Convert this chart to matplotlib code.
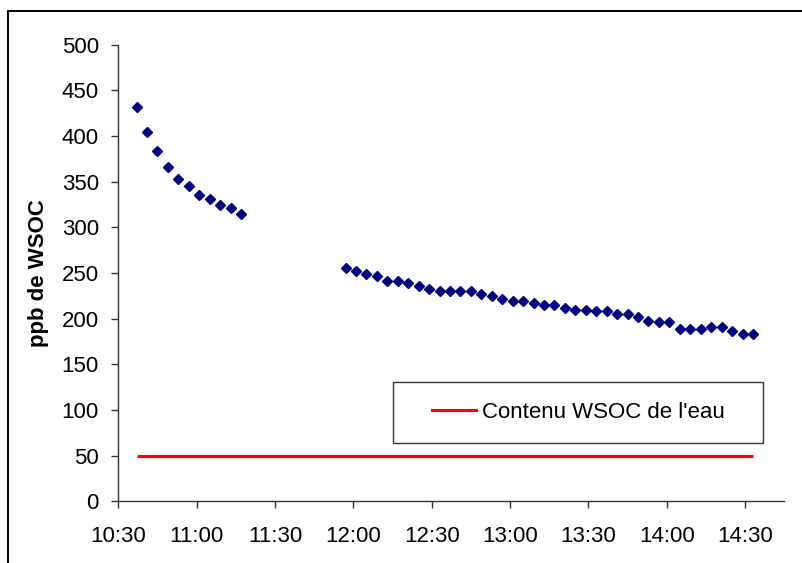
import matplotlib
matplotlib.use("Agg")
from datetime import datetime
import matplotlib.pyplot as plt
import matplotlib.dates as mdates
from matplotlib.patches import Rectangle
from matplotlib.lines import Line2D

plt.rcParams['font.family'] = ['Liberation Sans', 'DejaVu Sans']

# measured WSOC (ppb), first run
times1 = ["10:37", "10:41", "10:45", "10:49", "10:53", "10:57",
          "11:01", "11:05", "11:09", "11:13", "11:17"]
wsoc1 = [432, 405, 384, 366, 353, 345, 336, 331, 324, 321, 315]

# second run
times2 = ["11:57", "12:01", "12:05", "12:09", "12:13", "12:17", "12:21", "12:25",
          "12:29", "12:33", "12:37", "12:41", "12:45", "12:49", "12:53", "12:57",
          "13:01", "13:05", "13:09", "13:13", "13:17", "13:21", "13:25", "13:29",
          "13:33", "13:37", "13:41", "13:45", "13:49", "13:53", "13:57", "14:01",
          "14:05", "14:09", "14:13", "14:17", "14:21", "14:25", "14:29", "14:33"]
wsoc2 = [255.5, 252, 249, 247, 241, 241, 239.5, 236, 233, 230, 230, 230,
         230, 227, 225, 222, 219.5, 219.5, 217.5, 214.5, 214.5, 211.5, 209.5, 209.5,
         208, 208, 205, 205, 202, 197, 196, 196, 189, 189, 189, 191,
         191, 186, 183.5, 183.5]

# WSOC content of the water
water_times = ["10:37", "14:33"]
water_wsoc = [50, 50]

legend_label = "Contenu WSOC de l'eau"
ylabel = "ppb de WSOC"


def to_dt(hm):
    return datetime.strptime("2000-01-01 " + hm, "%Y-%m-%d %H:%M")


W, H = 803, 563
fig = plt.figure(figsize=(W / 100, H / 100), dpi=100)
ax = fig.add_axes([118.3 / W, 1 - 501.3 / H, 666 / W, 456.5 / H])

ax.plot([to_dt(t) for t in water_times], water_wsoc, color='#ff0000', lw=2.2,
        solid_capstyle='butt')
ax.plot([to_dt(t) for t in times1], wsoc1, ls='none', marker='D', ms=5.1,
        color='#000080', mec='#000080')
ax.plot([to_dt(t) for t in times2], wsoc2, ls='none', marker='D', ms=5.1,
        color='#000080', mec='#000080')

ax.set_xlim(to_dt("10:30"), to_dt("14:45"))
ax.set_ylim(0, 500)
ax.set_yticks(range(0, 501, 50))
ax.xaxis.set_major_locator(mdates.MinuteLocator(byminute=[0, 30]))
ax.xaxis.set_major_formatter(mdates.DateFormatter('%H:%M'))

for s in ['top', 'right']:
    ax.spines[s].set_visible(False)
for s in ['left', 'bottom']:
    ax.spines[s].set_color('#333333')
    ax.spines[s].set_linewidth(1.0)

ax.tick_params(axis='both', direction='out', length=5, width=1.0,
               color='#333333', labelsize=16)
ax.tick_params(axis='y', pad=9)
ax.tick_params(axis='x', pad=13)

ax.set_ylabel(ylabel, fontsize=16, fontweight='bold')
ax.yaxis.set_label_coords(-0.104, 0.5)

# legend box
x0, x1 = (393.3 - 118.3) / 666, (762.7 - 118.3) / 666
y0, y1 = (501.3 - 443.3) / 456.5, (501.3 - 382) / 456.5
ax.add_patch(Rectangle((x0, y0), x1 - x0, y1 - y0, transform=ax.transAxes,
                       fill=False, ec='#333333', lw=1.0, zorder=5))
handle = Line2D([], [], color='#ff0000', lw=2.2)
ax.legend([handle], [legend_label], loc='center', frameon=False, fontsize=16,
          handlelength=2.0, handletextpad=0.25,
          bbox_to_anchor=((x0 + x1) / 2, (y0 + y1) / 2))

# outer chart border
fig.add_artist(Rectangle((8.3 / W, -0.05), 1.1, 1 - 11 / H + 0.05,
                         transform=fig.transFigure, fill=False, ec='black', lw=1.4))

fig.savefig("out.png", dpi=100)
